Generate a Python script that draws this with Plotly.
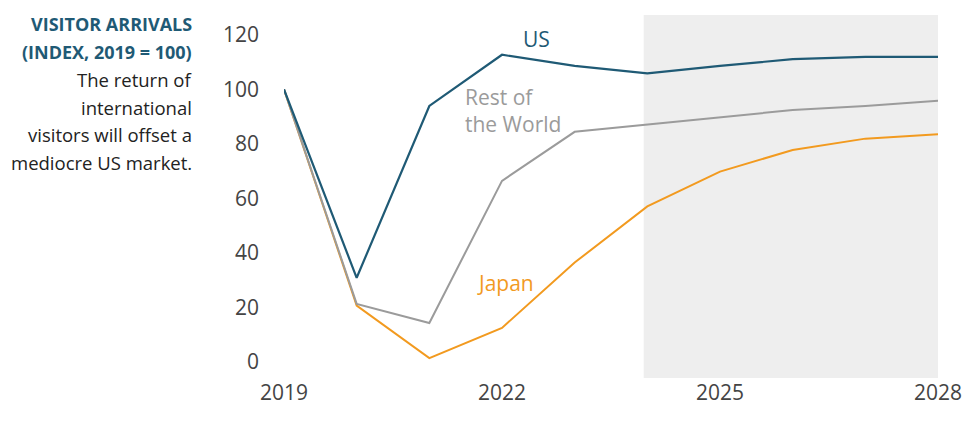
import plotly.graph_objects as go

years = [2019, 2020, 2021, 2022, 2023, 2024, 2025, 2026, 2027, 2028]
us = [100, 30.8, 93.9, 112.7, 108.6, 105.9, 108.6, 111.1, 111.9, 111.9]
rest_of_world = [100, 21.2, 14.2, 66.4, 84.4, 87.0, 89.7, 92.4, 93.9, 95.8]
japan = [100, 20.6, 1.3, 12.4, 36.4, 57.0, 69.8, 77.7, 81.9, 83.5]
forecast_start, forecast_end = 2023.95, 2028
y_ticks = [0, 20, 40, 60, 80, 100, 120]
x_ticks = [2019, 2022, 2025, 2028]

TEAL = "#1f5a75"
GRAY = "#9b9b9b"
ORANGE = "#f29a1f"
FONT = "Open Sans"

# page has ~8px body offset; compensate
OFF = 8
W, H = 971 - OFF, 439 - OFF
L, T = 284 - OFF, 15 - OFF
PW, PH = 654, 363
R, B = W - L - PW, H - T - PH

fig = go.Figure()
fig.add_shape(type="rect", xref="x", yref="paper", x0=forecast_start, x1=forecast_end,
              y0=0, y1=1, fillcolor="#eeeeee", line_width=0, layer="below")

fig.add_trace(go.Scatter(x=years, y=japan, mode="lines", line=dict(color=ORANGE, width=2), name="Japan"))
fig.add_trace(go.Scatter(x=years, y=rest_of_world, mode="lines", line=dict(color=GRAY, width=2), name="Rest of the World"))
fig.add_trace(go.Scatter(x=years, y=us, mode="lines", line=dict(color=TEAL, width=2.2), name="US"))

fig.add_annotation(x=2022.48, y=118.5, text="US", showarrow=False,
                   font=dict(family=FONT, size=21, color=TEAL))
fig.add_annotation(x=2021.47, y=92.3, text="Rest of<br>the World", showarrow=False, xanchor="left",
                   align="left", font=dict(family=FONT, size=21, color=GRAY))
fig.add_annotation(x=2022.05, y=29.0, text="Japan", showarrow=False,
                   font=dict(family=FONT, size=21, color=ORANGE))

# left side text block (screen pixel positions)
top, bottom = 15, 378
def py(p):
    return (bottom - p) / (bottom - top)
xr = (194 - 284) / PW
lines = [
    ("<b>VISITOR ARRIVALS</b>", 24, TEAL, 18.0),
    ("<b>(INDEX, 2019 = 100)</b>", 52, TEAL, 18.0),
    ("The return of", 79, "#222222", 18.5),
    ("international", 107, "#222222", 18.5),
    ("visitors will offset a", 134, "#222222", 18.5),
    ("mediocre US market.", 162, "#222222", 18.5),
]
for txt, ypx, col, fs in lines:
    fig.add_annotation(xref="paper", yref="paper", x=xr, y=py(ypx), text=txt, showarrow=False,
                       xanchor="right", yanchor="middle", align="right",
                       font=dict(family=FONT, size=fs, color=col))

fig.update_layout(
    width=W, height=H,
    margin=dict(l=L, r=R, t=T, b=B, pad=0),
    paper_bgcolor="white", plot_bgcolor="white",
    showlegend=False,
    font=dict(family=FONT, color="#444444"),
)
fig.update_xaxes(range=[2019, 2028], tickvals=x_ticks, ticktext=[str(t) for t in x_ticks],
                 showgrid=False, zeroline=False, showline=False, ticks="",
                 tickfont=dict(family=FONT, size=21, color="#444444"))
fig.update_yaxes(range=[-6, 127.3], tickvals=y_ticks, showgrid=False, zeroline=False, showline=False,
                 ticks="", ticklabelstandoff=24,
                 tickfont=dict(family=FONT, size=21, color="#444444"))

fig.write_html("out.html")
